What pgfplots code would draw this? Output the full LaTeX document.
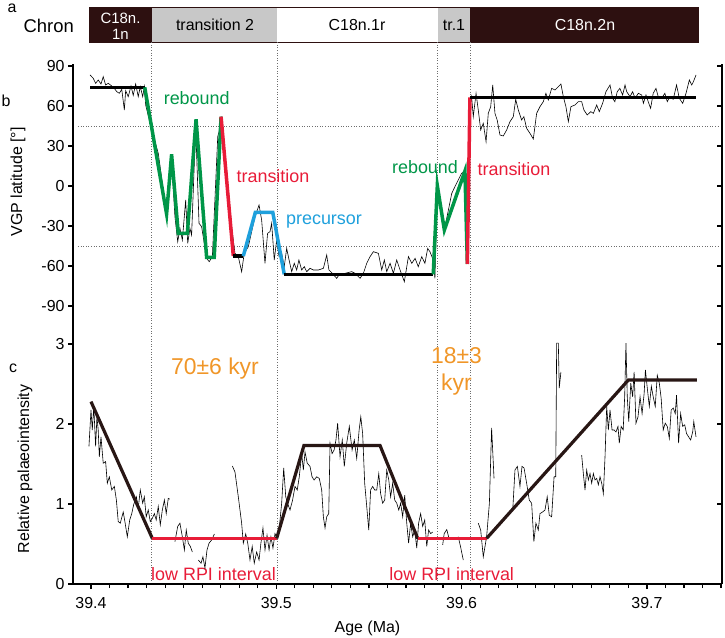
\documentclass[border=0pt]{standalone}
\usepackage{pgfplots}
\pgfplotsset{compat=1.18}
\usepackage{fontspec}
\setmainfont{Liberation Sans}
\definecolor{chdark}{RGB}{45,16,16}
\definecolor{chgray}{RGB}{200,200,200}
\definecolor{cgreen}{RGB}{0,150,72}
\definecolor{cred}{RGB}{232,28,56}
\definecolor{cblue}{RGB}{30,160,220}
\definecolor{corange}{RGB}{240,150,40}
\definecolor{cbrown}{RGB}{40,22,20}
\definecolor{dotgray}{RGB}{110,110,110}
\pgfplotsset{base/.style={at={(0,0)},anchor=south west,scale only axis,width=649bp,height=520bp,xmin=39.39029,xmax=39.74053,clip=false}}
\begin{document}
\begin{tikzpicture}
\path[use as bounding box] (-73bp,-54bp) rectangle (652bp,584bp);
% decorations in pixel coordinates
\begin{scope}[x=1bp,y=-1bp,shift={(-73bp,584bp)}]
\fill[chdark] (89.3,7.3) rectangle (152,42.3);
\fill[chgray] (152,7.3) rectangle (277,42.3);
\fill[white] (277,7.3) rectangle (437.7,42.3);
\fill[chgray] (437.7,7.3) rectangle (470.3,42.3);
\fill[chdark] (470.3,7.3) rectangle (698,42.3);
\draw[chdark,line width=0.8bp] (89.3,7.3) rectangle (698,42.3);
\foreach \xx in {151.7,277,437.7,470.3}{\draw[dotgray,line width=0.7bp,dash pattern=on 1bp off 1.6bp] (\xx,42.3) -- (\xx,584);}
\foreach \yy in {126,246}{\draw[dotgray,line width=0.7bp,dash pattern=on 1bp off 1.6bp] (78,\yy) -- (720,\yy);}
\node[white,font=\fontsize{15}{15}\selectfont,inner sep=0] at (120.5,18.5) {C18n.};
\node[white,font=\fontsize{15}{15}\selectfont,inner sep=0] at (120.5,34.5) {1n};
\node[black,font=\fontsize{16}{18}\selectfont] at (215,25) {transition 2};
\node[black,font=\fontsize{16}{18}\selectfont] at (357,25) {C18n.1r};
\node[black,font=\fontsize{16}{18}\selectfont] at (454,25) {tr.1};
\node[white,font=\fontsize{16}{18}\selectfont] at (585,25) {C18n.2n};
\node[font=\fontsize{18.5}{20}\selectfont] at (48.7,26) {Chron};
\node[font=\fontsize{16}{18}\selectfont,inner sep=1bp] at (12,8) {a};
\node[font=\fontsize{16}{18}\selectfont] at (6,101) {b};
\node[font=\fontsize{16}{18}\selectfont] at (13,368) {c};
\node[rotate=90,font=\fontsize{16}{18}\selectfont] at (18,182) {VGP latitude [°]};
\node[rotate=90,font=\fontsize{16}{18}\selectfont] at (25,469) {Relative palaeointensity};
\node[font=\fontsize{16}{18}\selectfont] at (367.5,628) {Age (Ma)};
\node[cgreen,font=\fontsize{18}{20}\selectfont] at (196.7,98) {rebound};
\node[cred,font=\fontsize{18}{20}\selectfont] at (273,176.5) {transition};
\node[cblue,font=\fontsize{18}{20}\selectfont] at (324,222) {precursor};
\node[cgreen,font=\fontsize{18}{20}\selectfont] at (425,167.5) {rebound};
\node[cred,font=\fontsize{18}{20}\selectfont] at (514,169) {transition};
\node[corange,font=\fontsize{23}{26}\selectfont] at (215,369) {70±6 kyr};
\node[corange,font=\fontsize{23}{26}\selectfont] at (456.5,356) {18±3};
\node[corange,font=\fontsize{23}{26}\selectfont] at (456.5,385) {kyr};
\node[cred,font=\fontsize{18}{20}\selectfont] at (213.5,574) {low RPI interval};
\node[cred,font=\fontsize{18}{20}\selectfont] at (451.7,574) {low RPI interval};
\end{scope}
% panel c axis (base)
\begin{axis}[base, ymin=0, ymax=6.5,
  axis x line*=bottom, axis y line*=left,
  axis line style={line width=1.5bp,-},
  tick align=outside, tick style={line width=1.2bp,black},
  major tick length=5bp, minor tick length=4bp,
  xtick={39.4,39.5,39.6,39.7}, xticklabels={39.4,39.5,39.6,39.7},
  xticklabel style={yshift=-5bp},
  minor xtick={39.41,39.42,39.43,39.44,39.45,39.46,39.47,39.48,39.49,39.51,39.52,39.53,39.54,39.55,39.56,39.57,39.58,39.59,39.61,39.62,39.63,39.64,39.65,39.66,39.67,39.68,39.69,39.71,39.72,39.73,39.74},
  ytick={0,1,2,3}, yticklabels={0,1,2,3},
  ticklabel style={font=\fontsize{16}{18}\selectfont},
  unbounded coords=jump]
\addplot[black,line width=0.6bp] table {
39.3989 1.72
39.4000 2.175
39.4007 1.925
39.4015 2.22
39.4025 1.72
39.4032 2.09
39.4039 1.925
39.4045 1.59
39.4054 1.84
39.4066 1.51
39.4079 1.53
39.4088 1.26
39.4099 1.34
39.4112 1.175
39.4126 1.22
39.4137 1.05
39.4147 0.78
39.4158 0.76
39.4174 0.90
39.4183 0.78
39.4196 0.59
39.4209 0.80
39.4220 0.88
39.4230 0.99
39.4245 1.09
39.4255 0.95
39.4266 1.175
39.4279 1.01
39.4288 1.09
39.4298 0.84
39.4309 0.925
39.4320 0.78
39.4331 0.82
39.4342 0.88
39.4352 0.80
39.4363 0.97
39.4374 0.74
39.4385 0.925
39.4396 1.05
39.4406 0.88
39.4417 1.07
39.4425 1.06
39.4440 nan
39.4453 0.53
39.4468 0.72
39.4480 0.76
39.4493 0.59
39.4504 0.425
39.4514 0.675
39.4525 0.51
39.4536 0.47
39.4547 0.40
39.4560 nan
39.4579 0.30
39.4594 0.26
39.4604 0.34
39.4615 0.20
39.4626 0.425
39.4637 0.51
39.4651 0.55
39.4666 0.625
39.4700 nan
39.4763 1.475
39.4777 1.40
39.4795 1.09
39.4813 0.76
39.4822 0.51
39.4835 0.625
39.4846 0.51
39.4858 0.30
39.4870 0.47
39.4881 0.26
39.4894 0.40
39.4907 0.30
39.4917 0.51
39.4928 0.70
39.4939 0.425
39.4950 0.61
39.4961 0.425
39.4971 0.59
39.4982 0.45
39.4993 0.63
39.5004 0.57
39.5015 0.675
39.5029 1.01
39.5040 1.45
39.5051 1.09
39.5062 1.0
39.5074 0.925
39.5088 1.05
39.5101 1.22
39.5113 1.175
39.5124 1.34
39.5137 1.63
39.5146 1.425
39.5155 1.65
39.5167 1.51
39.5182 1.47
39.5193 1.34
39.5204 1.30
39.5218 1.34
39.5232 1.32
39.5245 1.175
39.5254 0.84
39.5263 0.70
39.5272 0.84
39.5283 0.88
39.5290 1.76
39.5301 1.63
39.5312 1.675
39.5322 1.80
39.5331 2.01
39.5344 1.59
39.5356 1.80
39.5367 1.47
39.5380 1.76
39.5394 1.97
39.5409 1.675
39.5421 1.80
39.5434 1.57
39.5447 1.925
39.5456 2.09
39.5466 1.88
39.5477 1.26
39.5488 0.97
39.5499 0.675
39.5509 1.175
39.5520 1.22
39.5531 1.175
39.5542 1.175
39.5553 1.38
39.5563 1.13
39.5574 1.01
39.5585 1.05
39.5596 1.425
39.5607 1.30
39.5617 1.09
39.5628 1.26
39.5639 1.05
39.5650 1.01
39.5661 0.925
39.5671 1.01
39.5682 0.84
39.5693 1.11
39.5704 0.76
39.5714 0.51
39.5725 0.76
39.5736 0.59
39.5747 0.675
39.5758 0.45
39.5768 0.76
39.5779 0.88
39.5790 0.72
39.5801 0.80
39.5812 0.47
39.5822 0.675
39.5833 0.63
39.5844 0.65
39.5870 nan
39.5898 0.49
39.5906 0.63
39.5920 0.68
39.5930 0.59
39.5950 nan
39.5982 0.59
39.5994 0.47
39.6009 0.30
39.6050 nan
39.6090 0.76
39.6103 0.675
39.6117 0.34
39.6135 0.59
39.6150 1.01
39.6162 1.95
39.6175 1.32
39.6220 nan
39.6276 0.925
39.6288 1.425
39.6301 1.47
39.6315 1.22
39.6326 1.47
39.6337 1.45
39.6351 1.26
39.6365 1.05
39.6378 1.01
39.6390 0.53
39.6401 0.76
39.6414 0.675
39.6423 0.88
39.6437 0.90
39.6450 0.925
39.6462 1.09
39.6473 0.86
39.6486 0.84
39.6499 1.34
39.6508 1.34
39.6513 3.01
39.6522 3.01
39.6527 2.45
39.6536 2.65
39.6600 nan
39.6648 1.61
39.6657 1.38
39.6666 1.175
39.6675 1.425
39.6684 1.30
39.6693 1.38
39.6702 1.26
39.6711 1.38
39.6720 1.30
39.6729 1.32
39.6738 1.24
39.6747 1.34
39.6756 1.26
39.6765 1.13
39.6774 1.59
39.6783 2.22
39.6792 1.925
39.6801 2.175
39.6812 1.925
39.6823 1.925
39.6833 1.90
39.6844 1.97
39.6851 1.76
39.6861 1.97
39.6872 1.925
39.6880 2.34
39.6887 3.01
39.6894 2.34
39.6902 2.03
39.6913 2.51
39.6923 2.34
39.6931 2.65
39.6941 2.01
39.6952 2.09
39.6963 2.34
39.6974 2.13
39.6985 2.38
39.6992 2.675
39.7002 2.45
39.7013 2.22
39.7024 2.47
39.7034 2.34
39.7045 2.22
39.7056 2.61
39.7067 2.51
39.7077 2.32
39.7088 1.925
39.7099 2.01
39.7110 1.97
39.7121 1.82
39.7131 2.175
39.7142 2.20
39.7153 2.13
39.7160 2.36
39.7171 1.76
39.7182 2.13
39.7193 1.97
39.7204 1.99
39.7214 1.88
39.7225 1.84
39.7236 1.80
39.7247 1.90
39.7253 2.03
39.7265 1.84
};
\addplot[cbrown,line width=3.2bp] coordinates {(39.4000,2.28) (39.4331,0.57)};
\addplot[cred,line width=3.2bp] coordinates {(39.4331,0.57) (39.5002,0.57)};
\addplot[cbrown,line width=3.2bp] coordinates {(39.5002,0.57) (39.5149,1.73) (39.5560,1.73) (39.5763,0.57)};
\addplot[cred,line width=3.2bp] coordinates {(39.5763,0.57) (39.6135,0.57)};
\addplot[cbrown,line width=3.2bp] coordinates {(39.6135,0.57) (39.6900,2.55) (39.7269,2.55)};
\end{axis}
% right axis with inward ticks
\begin{axis}[base, ymin=0, ymax=6.5, hide x axis,
  axis y line*=right, axis line style={line width=1.5bp,-},
  tick align=inside, tick style={line width=1.2bp,black}, major tick length=5bp,
  ytick={0,1,2,3,3.475,3.975,4.475,4.975,5.475,5.975,6.475}, yticklabels={}]
\end{axis}
% panel b axis
\begin{axis}[base, ymin=-298.5, ymax=91.5, hide x axis,
  axis y line*=left, axis line style={line width=1.5bp,-},
  tick align=outside, tick style={line width=1.2bp,black}, major tick length=5bp,
  ytick={-90,-60,-30,0,30,60,90}, yticklabels={-90,-60,-30,0,30,60,90},
  ticklabel style={font=\fontsize{16}{18}\selectfont}]
\addplot[black,line width=0.6bp] table {
39.3995 83.3
39.4012 80.8
39.4025 77
39.4039 79.5
39.4054 76.5
39.4066 82
39.4079 75.75
39.4093 77
39.4112 75
39.4126 73.25
39.4139 70.75
39.4153 69.5
39.4166 72.5
39.4180 57
39.4187 71.5
39.4201 67
39.4216 75
39.4228 68
39.4241 76.5
39.4255 67
39.4266 74.5
39.4279 67
39.4288 74.5
39.4295 60.75
39.4328 42
39.4363 24.5
39.4378 9.5
39.4396 -10.5
39.4408 -20.5
39.4435 19.5
39.4453 -23
39.4468 -41.75
39.4480 -31.75
39.4493 -40.5
39.4511 -10.5
39.4522 -43
39.4534 -31.75
39.4543 -36.75
39.4565 44.5
39.4583 -28
39.4597 -30.5
39.4624 -54.25
39.4638 -56.75
39.4655 -53
39.4684 37
39.4691 40.75
39.4705 50.75
39.4732 12
39.4759 -30.5
39.4777 -50.5
39.4795 -53
39.4813 -64.25
39.4827 -50.5
39.4849 -45.5
39.4885 -23
39.4907 -14.25
39.4921 -25.5
39.4939 -58
39.4953 -35.5
39.4966 -34.25
39.4975 -28
39.4989 -55.5
39.5002 -40.5
39.5015 -53
39.5029 -50.5
39.5043 -60.5
39.5056 -46.75
39.5069 -55.5
39.5083 -64.25
39.5097 -58
39.5110 -63
39.5122 -55.5
39.5137 -63
39.5151 -60.5
39.5164 -64.25
39.5182 -61.75
39.5200 -63
39.5227 -63
39.5254 -61.75
39.5272 -51.75
39.5284 -63
39.5302 -65.5
39.5326 -69.25
39.5344 -65.5
39.5371 -65.5
39.5407 -64.25
39.5425 -65.5
39.5452 -69.25
39.5470 -65.5
39.5488 -58
39.5506 -53
39.5524 -49.25
39.5551 -50.5
39.5569 -63
39.5583 -55.5
39.5596 -64.25
39.5614 -58
39.5632 -65.5
39.5650 -55.5
39.5668 -63
39.5691 -71.75
39.5713 -53
39.5731 -58
39.5749 -54.25
39.5766 -60.5
39.5785 -53
39.5802 -58
39.5817 -46.75
39.5829 -49.25
39.5847 -55.5
39.5856 -69.25
39.5869 0
39.5907 -33
39.5947 -5.5
39.5964 -0.5
39.5982 4.5
39.6000 9.5
39.6018 11
39.6031 -58
39.6045 60
39.6054 67
39.6063 52
39.6078 69.5
39.6090 57
39.6103 42
39.6117 47
39.6132 33.25
39.6144 54.5
39.6157 59.5
39.6168 75.75
39.6180 54.5
39.6192 49.5
39.6207 38.25
39.6225 37.5
39.6243 42
39.6261 48.25
39.6279 52
39.6292 65
39.6306 57
39.6324 49.5
39.6336 52
39.6351 43.25
39.6369 39.5
39.6387 35.25
39.6405 54.5
39.6423 59.5
39.6441 63.25
39.6455 69.5
39.6468 64.5
39.6486 73.25
39.6504 72
39.6522 74.5
39.6536 76.5
39.6549 67
39.6563 59.5
39.6576 48.25
39.6590 59.5
39.6612 60.75
39.6630 63.25
39.6648 63.25
39.6660 57
39.6678 53.25
39.6697 55.75
39.6711 54.5
39.6729 60.75
39.6743 55.75
39.6761 62
39.6779 70.75
39.6801 75.75
39.6815 65.75
39.6827 63.25
39.6840 70.75
39.6854 73.25
39.6869 68.25
39.6882 75.75
39.6891 70.75
39.6909 67
39.6923 70.75
39.6936 65.75
39.6954 69.5
39.6972 68.25
39.6981 62
39.6995 68.25
39.7007 63.25
39.7020 58.25
39.7034 69.5
39.7049 73.25
39.7061 67
39.7079 65.75
39.7097 69.5
39.7110 63.25
39.7124 67
39.7142 65
39.7160 75.75
39.7175 65.75
39.7193 62
39.7211 69.5
39.7229 79.5
39.7242 75.75
39.7251 78.25
39.7265 83.25
};
\addplot[black,line width=3.5bp] coordinates {(39.3995,74) (39.4290,74)};
\addplot[cgreen,line width=3.5bp] coordinates {(39.4290,74) (39.4408,-21) (39.4435,23.7) (39.4471,-35.5) (39.4520,-35.5) (39.4567,50) (39.4624,-53.5) (39.4665,-53.5) (39.4702,52)};
\addplot[cred,line width=3.5bp] coordinates {(39.4702,52) (39.4768,-52.5)};
\addplot[black,line width=3.5bp] coordinates {(39.4768,-52.5) (39.4822,-52.5)};
\addplot[cblue,line width=3.5bp] coordinates {(39.4822,-52.5) (39.4887,-19.75) (39.4981,-19.75) (39.5043,-66.25)};
\addplot[black,line width=3.5bp] coordinates {(39.5043,-66.25) (39.5847,-66.25)};
\addplot[cgreen,line width=3.5bp] coordinates {(39.5847,-66.25) (39.5869,0.25) (39.5907,-33) (39.6018,11.25) (39.6031,-58.5)};
\addplot[cred,line width=3.5bp] coordinates {(39.6031,-58.5) (39.6045,66.5)};
\addplot[black,line width=3.5bp] coordinates {(39.6045,66.5) (39.7265,66.5)};
\end{axis}
\end{tikzpicture}
\end{document}
